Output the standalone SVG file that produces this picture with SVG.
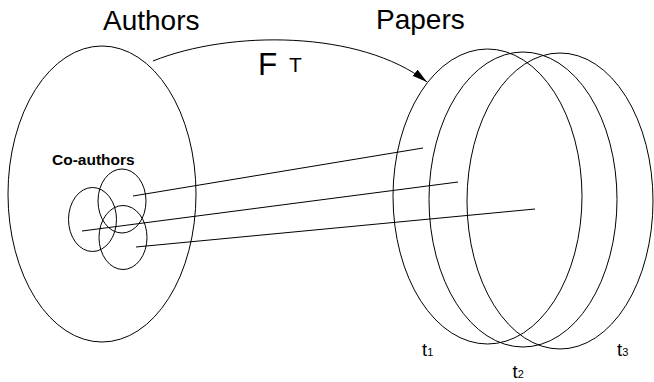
<svg xmlns="http://www.w3.org/2000/svg" width="654" height="382" viewBox="0 0 654 382">
<style>
.s{fill:none;stroke:#000;stroke-width:1}
.t{font-family:"Liberation Sans",Arial,sans-serif;fill:#000}
</style>
<defs>
<marker id="ah" markerUnits="userSpaceOnUse" markerWidth="15" markerHeight="8" viewBox="0 0 15 8" refX="15" refY="4" orient="auto">
<path d="M0,0 L15,4 L0,8 z" fill="#000"/>
</marker>
</defs>
<rect width="654" height="382" fill="#fff"/>
<g id="authors">
<ellipse class="s" cx="102" cy="194" rx="94" ry="148"/>
<text class="t" x="103" y="30" font-size="28">Authors</text>
</g>
<g id="coauthors">
<ellipse class="s" cx="92.5" cy="219.5" rx="24" ry="32"/>
<ellipse class="s" cx="122" cy="201" rx="24" ry="32"/>
<ellipse class="s" cx="123" cy="237.5" rx="24" ry="32"/>
<text class="t" x="52" y="164.5" font-size="15.5" font-weight="bold">Co-authors</text>
</g>
<g id="papers">
<ellipse class="s" cx="487.5" cy="196.5" rx="94.5" ry="147.5"/>
<ellipse class="s" cx="523" cy="199.5" rx="94" ry="147.5"/>
<ellipse class="s" cx="560" cy="201" rx="93" ry="148"/>
<text class="t" x="376" y="29" font-size="28">Papers</text>
</g>
<g id="labels">
<text class="t" x="258" y="74.5" font-size="31.5">F</text>
<text class="t" x="289" y="72" font-size="21">T</text>
<text class="t" x="422" y="356" font-size="18.5">t<tspan font-size="11">1</tspan></text>
<text class="t" x="512.5" y="378" font-size="18.5">t<tspan font-size="11">2</tspan></text>
<text class="t" x="617" y="356" font-size="18.5">t<tspan font-size="11">3</tspan></text>
</g>
<g id="connectors">
<path class="s" d="M153,61 C230,30 360,30 427,82" marker-end="url(#ah)"/>
<line class="s" x1="133" y1="196" x2="423" y2="148"/>
<line class="s" x1="82" y1="231" x2="458" y2="182"/>
<line class="s" x1="136" y1="247" x2="535" y2="209"/>
</g>
</svg>
